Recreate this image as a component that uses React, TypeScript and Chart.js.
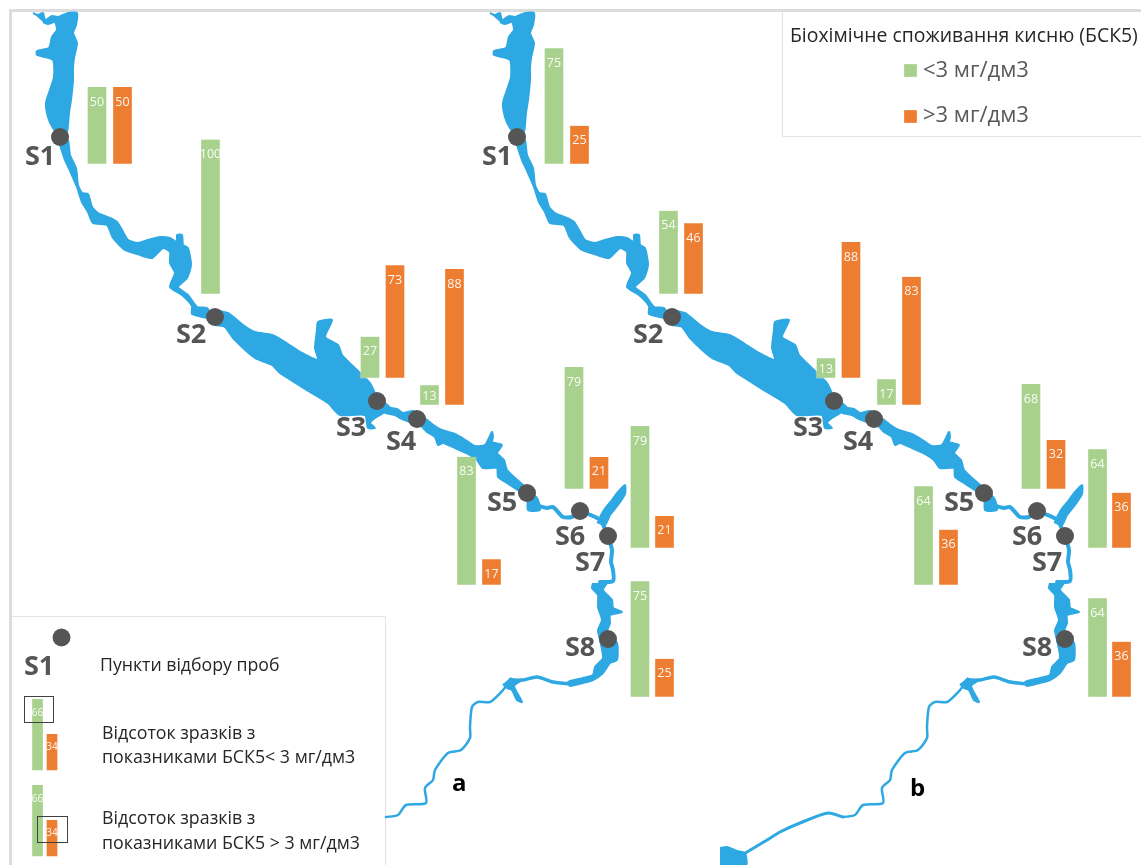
import React, { useEffect, useRef } from "react";
import { Chart, registerables } from "chart.js";

Chart.register(...registerables);

// ---------- survey values (% of samples) ----------
const stations = ["S1", "S2", "S3", "S4", "S5", "S6", "S7", "S8"];
const panelABelow = [50, 100, 27, 13, 83, 79, 79, 75];
const panelAAbove = [50, 0, 73, 88, 17, 21, 21, 25];
const panelBBelow = [75, 54, 13, 17, 64, 68, 64, 64];
const panelBAbove = [25, 46, 88, 83, 36, 32, 36, 36];

// ---------- map anchors of each group of bars, panel a (panel b is shifted) ----------
const panelShift = 457;
const belowBarX = [97, 210.5, 370, 429.5, 466.5, 574, 640, 640];
const aboveBarX = [122.5, 236, 395, 454.5, 491.5, 599, 664.5, 664.5];
const panelBBelowBarX = [554, 668.5, 826, 886.5, 923.5, 1031, 1097.5, 1097.5];
const panelBAboveBarX = [579.5, 693.5, 851, 911.5, 948.5, 1056, 1121.5, 1121.5];
const barBaseY = [164.5, 294.5, 378.5, 405.5, 585.5, 489.5, 548.5, 697.5];
const pixelsPerPercent = 1.55;

const stationX = [60, 215, 377, 417, 527, 580, 608, 608];
const stationY = [137, 317, 401, 419, 493, 511, 536, 639];
const labelX = [25, 176, 336, 386, 487, 555, 575, 565];
const labelY = [165, 343, 436, 450, 511, 545, 571, 656];

// ---------- river outline, panel a coordinates ----------
type P = [number, number];
const upperLake: P[] = [[33, 13], [38, 15], [43, 13], [45, 20], [52, 16], [58, 17], [68, 13], [77, 13], [76, 25], [73, 33], [77, 43], [74, 58], [73, 68], [73, 80], [71, 100], [69, 113], [67, 132], [62, 138], [53, 128], [48, 117], [46, 103], [50, 90], [54, 77], [53, 60], [37, 55], [37, 51], [49, 48], [52, 37], [57, 30], [55, 22], [48, 24], [43, 22]];
const upperRiver: P[] = [[64, 138], [68, 140], [70, 155], [76, 168], [78, 185], [82, 193], [88, 194], [92, 207], [98, 213], [110, 218], [117, 222], [122, 230], [128, 240], [138, 243], [148, 240], [160, 237], [170, 238], [177, 242], [177, 235], [182, 235], [183, 245], [188, 248], [191, 265], [187, 278], [178, 287], [188, 295], [197, 307], [207, 308], [212, 318], [192, 314], [192, 306], [182, 295], [170, 287], [175, 273], [170, 263], [170, 252], [163, 248], [152, 258], [140, 255], [125, 250], [113, 238], [107, 225], [93, 223], [88, 212], [82, 202], [77, 187], [71, 173], [65, 160], [60, 145]];
const bigLake: P[] = [[215, 310], [228, 313], [243, 325], [255, 332], [272, 335], [285, 342], [300, 352], [318, 360], [315, 348], [317, 330], [318, 322], [332, 320], [325, 337], [338, 345], [342, 355], [357, 370], [370, 383], [377, 397], [390, 408], [375, 418], [370, 423], [375, 428], [368, 428], [365, 415], [340, 415], [328, 403], [310, 392], [280, 373], [272, 365], [255, 358], [233, 338], [225, 327], [215, 325]];
const middleRiver: P[] = [[385, 407], [397, 409], [403, 413], [413, 411], [422, 416], [432, 424], [442, 430], [455, 434], [467, 441], [475, 446], [485, 445], [492, 432], [493, 437], [492, 442], [502, 445], [497, 453], [504, 460], [507, 470], [523, 485], [537, 498], [540, 510], [528, 510], [527, 497], [507, 483], [498, 477], [497, 468], [483, 468], [477, 460], [470, 455], [455, 448], [443, 443], [438, 445], [435, 437], [427, 432], [420, 425], [410, 422], [400, 418], [395, 415], [385, 413]];
const forkArm: P[] = [[600, 517], [604, 510], [612, 500], [618, 492], [625, 485], [625, 494], [618, 505], [610, 515], [605, 525], [597, 522]];
const lowerLake: P[] = [[607, 583], [603, 590], [612, 600], [613, 608], [622, 612], [610, 615], [610, 623], [607, 632], [617, 643], [617, 660], [610, 663], [603, 673], [593, 680], [583, 683], [570, 686], [568, 682], [583, 678], [593, 675], [595, 667], [603, 658], [600, 640], [598, 630], [602, 620], [598, 607], [598, 595], [592, 588], [593, 583]];
const confluence: P[] = [[510, 678], [514, 680], [522, 680], [514, 686], [522, 702], [517, 700], [512, 690], [507, 688], [503, 684]];
const s6Reach: P[] = [[535, 505], [547, 508], [553, 507], [563, 517], [572, 517], [580, 512], [600, 520], [608, 536]];
const s7Reach: P[] = [[608, 536], [612, 550], [611, 562], [613, 570], [613, 581], [600, 582]];
const upperTail: P[] = [[570, 684], [553, 682], [537, 677], [523, 680], [510, 680]];
const lowerTail: P[] = [[510, 680], [503, 690], [490, 702], [478, 702], [472, 707], [470, 727], [470, 738], [461, 750], [448, 753], [435, 770], [433, 780], [425, 788], [426, 803], [406, 805], [398, 815], [386, 817]];
const panelBTail: P[] = [[843, 817], [828, 813], [800, 823], [780, 832], [767, 840], [747, 852], [735, 858]];
const panelBTailLake: P[] = [[720, 848], [727, 847], [737, 851], [745, 853], [746, 865], [720, 865]];

// ---------- legend values ----------
const legendBelow = [66, 66];
const legendAbove = [34, 34];
const legendBaseY = [771, 857];
const legendBelowX = 37.5;
const legendAboveX = 52;
const legendPixelsPerPercent = 1.09;
const legendBoxes = [[24, 696, 29, 26], [37, 816, 30, 26]];

const GREEN = "#A9D18E";
const ORANGE = "#ED7D31";
const BLUE = "#2EA8E2";
const DARK = "#555555";
const FONT = '"Open Sans"';

const shift = (pts: P[], dx: number) => pts.map(([x, y]) => ({ x: x + dx, y }));

const shape = (pts: P[], dx: number, order = 5) => ({
  type: "line" as const,
  data: shift(pts, dx),
  borderColor: BLUE,
  backgroundColor: BLUE,
  borderWidth: 2,
  borderJoinStyle: "round",
  pointRadius: 0,
  tension: 0.2,
  fill: "shape",
  order,
});
const stroke = (pts: P[], dx: number, width: number) => ({
  type: "line" as const,
  data: shift(pts, dx),
  borderColor: BLUE,
  borderWidth: width,
  borderJoinStyle: "round",
  borderCapStyle: "round",
  pointRadius: 0,
  tension: 0.25,
  fill: false,
  order: 5,
});
const bars = (xs: number[], vals: number[], bases: number[], color: string, k: number, thick: number, name: string) => ({
  type: "bar" as const,
  label: name,
  data: xs
    .map((x, i) => ({ x, y: [bases[i], bases[i] - vals[i] * k], v: vals[i] }))
    .filter((d) => d.v > 0),
  backgroundColor: color,
  borderColor: "rgba(255,255,255,0.35)",
  borderWidth: 1,
  barThickness: thick,
  grouped: false,
  order: 3,
});

const textPlugin = {
  id: "mapText",
  beforeDatasetsDraw(chart: any) {
    const { ctx } = chart;
    ctx.save();
    ctx.strokeStyle = "#DCDCDC";
    ctx.lineWidth = 3;
    ctx.beginPath();
    ctx.moveTo(1141, 10.5);
    ctx.lineTo(10.5, 10.5);
    ctx.lineTo(10.5, 865);
    ctx.stroke();
    ctx.lineWidth = 1;
    ctx.strokeStyle = "#E2E2E2";
    ctx.beginPath();
    ctx.moveTo(782.5, 12);
    ctx.lineTo(782.5, 136.5);
    ctx.lineTo(1141, 136.5);
    ctx.moveTo(11, 616.5);
    ctx.lineTo(385.5, 616.5);
    ctx.lineTo(385.5, 865);
    ctx.stroke();
    ctx.restore();
  },
  afterDatasetsDraw(chart: any) {
    const { ctx, scales } = chart;
    const sx = (v: number) => scales.x.getPixelForValue(v);
    const sy = (v: number) => scales.y.getPixelForValue(v);
    ctx.save();
    const put = (t: string, x: number, y: number, font: string, color: string, align = "left") => {
      ctx.font = font;
      ctx.fillStyle = color;
      ctx.textAlign = align;
      ctx.textBaseline = "alphabetic";
      ctx.fillText(t, sx(x), sy(y));
    };
    // values on bars
    chart.data.datasets.forEach((ds: any) => {
      if (ds.type !== "bar") return;
      const small = ds.label === "legend";
      ds.data.forEach((d: any) => {
        const h = d.y[0] - d.y[1];
        const cy = small ? d.y[1] + 13 : h < 26 ? d.y[1] + h / 2 : d.y[1] + 14;
        put(String(d.v), d.x, cy + (small ? 3.5 : 4.5), `${small ? 10 : 12.5}px ${FONT}`, "rgba(255,255,255,0.92)", "center");
      });
    });
    // station names
    [0, panelShift].forEach((dx) => {
      stations.forEach((s, i) => put(s, labelX[i] + dx, labelY[i], `bold 27px ${FONT}`, DARK));
    });
    put("a", 452, 791, `bold 24px ${FONT}`, "#000");
    put("b", 910, 796, `bold 24px ${FONT}`, "#000");
    // legends
    put("S1", 24, 675, `bold 27px ${FONT}`, DARK);
    const ink = "#262626";
    put("Пункти відбору проб", 100, 671, `17.7px ${FONT}`, ink);
    put("Відсоток зразків з", 102, 739, `17.8px ${FONT}`, ink);
    put("показниками БСК5< 3 мг/дм3", 102, 763, `17.8px ${FONT}`, ink);
    put("Відсоток зразків з", 102, 824, `17.8px ${FONT}`, ink);
    put("показниками БСК5 > 3 мг/дм3", 102, 849, `17.8px ${FONT}`, ink);
    put("Біохімічне споживання кисню (БСК5)", 790, 42, `19.4px ${FONT}`, ink);
    put("<3 мг/дм3", 923, 77, `22px ${FONT}`, "#595959");
    put(">3 мг/дм3", 923, 122, `22px ${FONT}`, "#595959");
    ctx.strokeStyle = "#404040";
    ctx.lineWidth = 1;
    legendBoxes.forEach(([x, y, w, h]) => ctx.strokeRect(x + 0.5, y + 0.5, w, h));
    ctx.restore();
  },
};

export default function App() {
  const ref = useRef<HTMLCanvasElement | null>(null);
  useEffect(() => {
    document.body.style.margin = "0";
    document.body.style.background = "#fff";
    const riverShapes = [upperLake, upperRiver, bigLake, middleRiver, forkArm, lowerLake, confluence];
    const datasets: any[] = [];
    [0, panelShift].forEach((dx) => {
      riverShapes.forEach((p) => datasets.push(shape(p, dx)));
      datasets.push(stroke(s6Reach, dx, 4));
      datasets.push(stroke(s7Reach, dx, 4));
      datasets.push(stroke(upperTail, dx, 3.5));
      datasets.push(stroke(lowerTail, dx, 2.5));
    });
    datasets.push(stroke(panelBTail, 0, 3));
    datasets.push(shape(panelBTailLake, 0));
    datasets.push(bars(belowBarX, panelABelow, barBaseY, GREEN, pixelsPerPercent, 20, "a"));
    datasets.push(bars(aboveBarX, panelAAbove, barBaseY, ORANGE, pixelsPerPercent, 20, "a"));
    datasets.push(bars(panelBBelowBarX, panelBBelow, barBaseY, GREEN, pixelsPerPercent, 20, "b"));
    datasets.push(bars(panelBAboveBarX, panelBAbove, barBaseY, ORANGE, pixelsPerPercent, 20, "b"));
    datasets.push(bars([legendBelowX, legendBelowX], legendBelow, legendBaseY, GREEN, legendPixelsPerPercent, 12, "legend"));
    datasets.push(bars([legendAboveX, legendAboveX], legendAbove, legendBaseY, ORANGE, legendPixelsPerPercent, 12, "legend"));
    // sampling points
    const stationPts = [
      ...stationX.map((x, i) => ({ x, y: stationY[i] })),
      ...stationX.map((x, i) => ({ x: x + panelShift, y: stationY[i] })),
      { x: 61.5, y: 637.5 },
    ];
    datasets.push({
      type: "scatter",
      data: stationPts,
      pointRadius: 9,
      pointBackgroundColor: DARK,
      pointBorderWidth: 0,
      order: 1,
    });
    // colour keys
    datasets.push({
      type: "scatter",
      data: [{ x: 910.5, y: 70.5 }],
      pointStyle: "rect",
      pointRadius: 9,
      pointBackgroundColor: GREEN,
      pointBorderWidth: 0,
      order: 1,
    });
    datasets.push({
      type: "scatter",
      data: [{ x: 910.5, y: 116.5 }],
      pointStyle: "rect",
      pointRadius: 9,
      pointBackgroundColor: ORANGE,
      pointBorderWidth: 0,
      order: 1,
    });
    const chart = new Chart(ref.current as HTMLCanvasElement, {
      type: "bar",
      data: { datasets },
      options: {
        animation: false,
        responsive: false,
        devicePixelRatio: 1,
        layout: { padding: 0, autoPadding: false },
        plugins: { legend: { display: false }, tooltip: { enabled: false }, title: { display: false } },
        scales: {
          x: { type: "linear", min: 0, max: 1141, display: false, offset: false },
          y: { type: "linear", min: 0, max: 865, reverse: true, display: false },
        },
      } as any,
      plugins: [textPlugin],
    } as any);
    return () => chart.destroy();
  }, []);
  return (
    <div style={{ position: "absolute", left: 0, top: 0, width: 1141, height: 865, background: "#fff" }}>
      <canvas ref={ref} width={1141} height={865} style={{ display: "block" }} />
    </div>
  );
}
